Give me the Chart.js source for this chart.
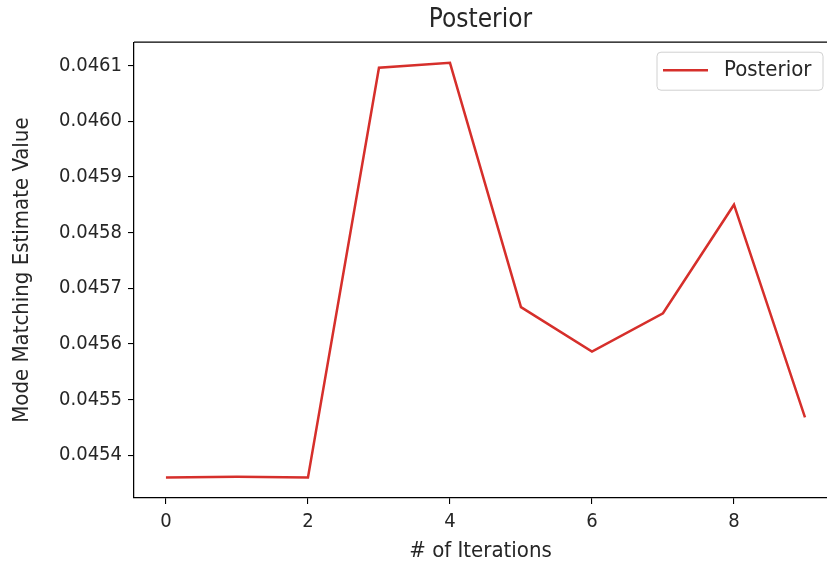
<!DOCTYPE html>
<html>
<head>
<meta charset="utf-8">
<script src="https://cdn.jsdelivr.net/npm/chart.js@4/dist/chart.umd.min.js"></script>
<style>
  html, body { margin: 0; padding: 0; overflow: hidden; background: #fff; }
</style>
</head>
<body>
<canvas id="c" width="827" height="569"></canvas>
<script>
// ---- data ----
const iterations = [0, 1, 2, 3, 4, 5, 6, 7, 8, 9];
const posterior = [0.045360, 0.045361, 0.045360, 0.046096, 0.046105, 0.045666, 0.045586, 0.045655, 0.045850, 0.045468];
const xTickValues = [0, 2, 4, 6, 8];
const yTickValues = [0.0454, 0.0455, 0.0456, 0.0457, 0.0458, 0.0459, 0.0460, 0.0461];
const seriesLabel = 'Posterior';
const chartTitle = 'Posterior';
const xTitle = '# of Iterations';
const yTitle = 'Mode Matching Estimate Value';

const FONT = "'DejaVu Sans Condensed', 'DejaVu Sans', sans-serif";
const TXT = '#262626';

const frame = {
  id: 'frame',
  afterDatasetsDraw(chart) {
    const a = chart.chartArea, ctx = chart.ctx;
    ctx.save();
    ctx.strokeStyle = '#000';
    ctx.lineWidth = 1.25;
    ctx.beginPath();
    ctx.moveTo(a.left, a.top);
    ctx.lineTo(a.right + 2, a.top);
    ctx.stroke();
    ctx.restore();
  },
  afterDraw(chart) {
    const a = chart.chartArea, ctx = chart.ctx;
    const ds = chart.data.datasets[0];
    const x1 = a.right - 170, x2 = a.right - 4, y1 = a.top + 10, y2 = a.top + 48;
    ctx.save();
    ctx.fillStyle = 'rgba(255,255,255,0.85)';
    ctx.strokeStyle = '#d0d0d0';
    ctx.lineWidth = 1;
    const r = 4;
    ctx.beginPath();
    ctx.moveTo(x1 + r, y1);
    ctx.arcTo(x2, y1, x2, y2, r);
    ctx.arcTo(x2, y2, x1, y2, r);
    ctx.arcTo(x1, y2, x1, y1, r);
    ctx.arcTo(x1, y1, x2, y1, r);
    ctx.closePath();
    ctx.fill();
    ctx.stroke();
    const cy = (y1 + y2) / 2 - 1;
    ctx.strokeStyle = ds.borderColor;
    ctx.lineWidth = ds.borderWidth;
    ctx.beginPath();
    ctx.moveTo(x1 + 6, cy);
    ctx.lineTo(x1 + 51, cy);
    ctx.stroke();
    ctx.fillStyle = TXT;
    ctx.font = "22px " + FONT;
    ctx.textBaseline = 'middle';
    ctx.fillText(ds.label, x1 + 67, cy);
    ctx.restore();
  }
};

new Chart(document.getElementById('c'), {
  type: 'line',
  data: {
    labels: iterations,
    datasets: [{
      label: seriesLabel,
      data: posterior,
      borderColor: '#d62f2b',
      borderWidth: 2.5,
      pointRadius: 0,
      tension: 0,
      fill: false
    }]
  },
  options: {
    responsive: false,
    animation: false,
    devicePixelRatio: 1,
    layout: { padding: { left: 0, right: 0, top: 0, bottom: 0 } },
    plugins: {
      legend: { display: false },
      tooltip: { enabled: false },
      title: {
        display: true,
        text: chartTitle,
        fullSize: false,
        color: TXT,
        font: { family: FONT, size: 26, weight: 'normal' },
        padding: { top: 5, bottom: 6 }
      }
    },
    scales: {
      x: {
        type: 'linear',
        min: -0.45,
        max: 9.31,
        afterBuildTicks(s) { s.ticks = xTickValues.map(v => ({ value: v })); },
        afterFit(s) { s.height = 71; },
        grid: { drawOnChartArea: false, drawTicks: true, tickLength: 6, color: '#000', lineWidth: 1.1 },
        border: { display: true, color: '#000', width: 1.25 },
        ticks: { color: TXT, font: { family: FONT, size: 20 }, padding: 6, maxRotation: 0, autoSkip: false },
        title: { display: true, text: xTitle, color: TXT, font: { family: FONT, size: 22 }, padding: { top: 2, bottom: 5 } }
      },
      y: {
        type: 'linear',
        min: 0.045323,
        max: 0.046142,
        afterBuildTicks(s) { s.ticks = yTickValues.map(v => ({ value: v })); },
        afterFit(s) { s.width = 134; },
        grid: { drawOnChartArea: false, drawTicks: true, tickLength: 6, color: '#000', lineWidth: 1.1 },
        border: { display: true, color: '#000', width: 1.25 },
        ticks: { color: TXT, font: { family: FONT, size: 20 }, padding: 6, autoSkip: false,
                 callback: v => Number(v).toFixed(4) },
        title: { display: true, text: yTitle, color: TXT, font: { family: FONT, size: 22 }, padding: { top: 9, bottom: 2 } }
      }
    }
  },
  plugins: [frame]
});
</script>
</body>
</html>
